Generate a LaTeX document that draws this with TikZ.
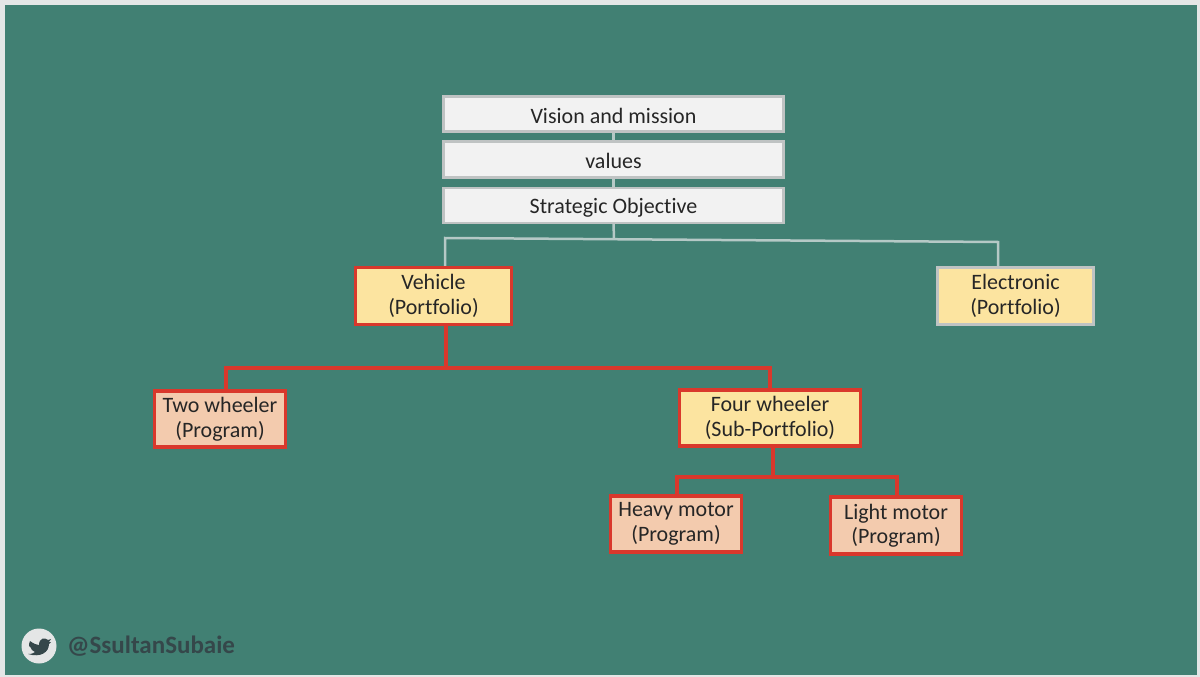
\documentclass[tikz,border=0pt]{standalone}
\usepackage{fontspec}
\setmainfont{Carlito}[Ligatures=NoCommon]
\usetikzlibrary{calc,backgrounds}
\definecolor{slidegreen}{HTML}{418073}
\definecolor{framegrey}{HTML}{E4E6E6}
\definecolor{boxgrey}{HTML}{F2F2F2}
\definecolor{edgegrey}{HTML}{BFC3C3}
\definecolor{linegrey}{HTML}{B5C9C6}
\definecolor{portyellow}{HTML}{FCE4A0}
\definecolor{progorange}{HTML}{F3CBAE}
\definecolor{edgered}{HTML}{D9382C}
\definecolor{handledark}{HTML}{35474A}
\tikzset{
    basebox/.style={draw, inner sep=0pt, outer sep=0pt, align=center, text=black!85, font=\fontsize{22}{24.5}\selectfont,
        execute at begin node={\rule{0pt}{19pt}}},
    topbox/.style={basebox, fill=boxgrey, draw=edgegrey, line width=2.5pt, minimum width=340pt, minimum height=35pt},
    portbox/.style={basebox, fill=portyellow, draw=edgered, line width=3.2pt, execute at begin node={\rule{0pt}{25pt}}},
    progbox/.style={basebox, fill=progorange, draw=edgered, line width=3.2pt, execute at begin node={\rule{0pt}{25pt}}},
    greyline/.style={draw=linegrey, line width=2.5pt},
    redline/.style={draw=edgered, line width=3.2pt}
}
\begin{document}
\begin{tikzpicture}[x=1pt, y=-1pt]

    % 1. top boxes
    \node[topbox] (vision) at (613.5,114) {Vision and mission};
    \node[topbox, minimum height=36pt] (values) at (613.5,159.5) {values};
    \node[topbox] (strategic) at (613.5,205.5) {Strategic Objective};

    % 2. portfolio boxes
    \node[portbox, minimum width=156pt, minimum height=57pt] (vehicle) at (433.5,296) {Vehicle\\(Portfolio)};
    \node[portbox, draw=edgegrey, minimum width=156pt, minimum height=57pt] (electronic) at (1015.5,296) {Electronic\\(Portfolio)};
    \node[portbox, minimum width=181pt, minimum height=56pt] (four) at (770,418) {Four wheeler\\(Sub-Portfolio)};

    % 3. program boxes
    \node[progbox, minimum width=131pt, minimum height=56pt] (two) at (220,419) {Two wheeler\\(Program)};
    \node[progbox, minimum width=131pt, minimum height=56pt] (heavy) at (676,524) {Heavy motor\\(Program)};
    \node[progbox, minimum width=131pt, minimum height=57pt] (light) at (896,525.5) {Light motor\\(Program)};

    % connector junctions
    \coordinate (stratbus) at (614,239);
    \coordinate (busleft) at (445,238);
    \coordinate (busright) at (998,242);
    \coordinate (vehbus) at (446,368);
    \coordinate (twotop) at (226,368);
    \coordinate (fourtop) at (770,368);
    \coordinate (fourbus) at (773,477);
    \coordinate (heavytop) at (677,477);
    \coordinate (lighttop) at (897,477);

    \begin{pgfonlayer}{background}
        % slide background
        \fill[framegrey] (0,0) rectangle (1200,677);
        \fill[slidegreen] (5,5) rectangle (1197,675);

        % 4. grey connectors
        \draw[greyline] (vision.south) -- (values.north);
        \draw[greyline] (values.south) -- (strategic.north);
        \draw[greyline] (strategic.south) -- (stratbus);
        \draw[greyline] (busleft |- vehicle.north) -- (busleft) -- (busright) -- (busright |- electronic.north);

        % 5. red connectors
        \draw[redline] (vehbus |- vehicle.south) -- (vehbus);
        \draw[redline] (twotop |- two.north) -- (twotop) -- (fourtop) -- (fourtop |- four.north);
        \draw[redline] (fourbus |- four.south) -- (fourbus);
        \draw[redline] (heavytop |- heavy.north) -- (heavytop) -- (lighttop) -- (lighttop |- light.north);
    \end{pgfonlayer}

    % 6. handle in the corner
    \node[circle, fill=framegrey, minimum size=35pt, inner sep=0pt] (badge) at (39,646) {};
    \fill[handledark] ($(badge)+(-9,-5)$) .. controls ($(badge)+(-5,-2)$) and ($(badge)+(-2,-1)$) .. ($(badge)+(0,-1)$)
        .. controls ($(badge)+(0,-8)$) and ($(badge)+(6,-9)$) .. ($(badge)+(9,-6)$)
        -- ($(badge)+(12,-7)$) -- ($(badge)+(10,-4)$) -- ($(badge)+(12,-4)$) -- ($(badge)+(10,-2)$)
        .. controls ($(badge)+(10,6)$) and ($(badge)+(2,12)$) .. ($(badge)+(-11,8)$)
        .. controls ($(badge)+(-7,8)$) and ($(badge)+(-5,7)$) .. ($(badge)+(-4,6)$)
        .. controls ($(badge)+(-7,5)$) and ($(badge)+(-8,3)$) .. ($(badge)+(-8,2)$)
        .. controls ($(badge)+(-10,1)$) and ($(badge)+(-10,-1)$) .. ($(badge)+(-10,-2)$)
        .. controls ($(badge)+(-10,-3)$) and ($(badge)+(-10,-4)$) .. cycle;
    \node[anchor=west, inner sep=0pt, text=handledark, font=\fontsize{25}{28}\selectfont\bfseries] (handle) at (67,646) {@SsultanSubaie};

\end{tikzpicture}
\end{document}
